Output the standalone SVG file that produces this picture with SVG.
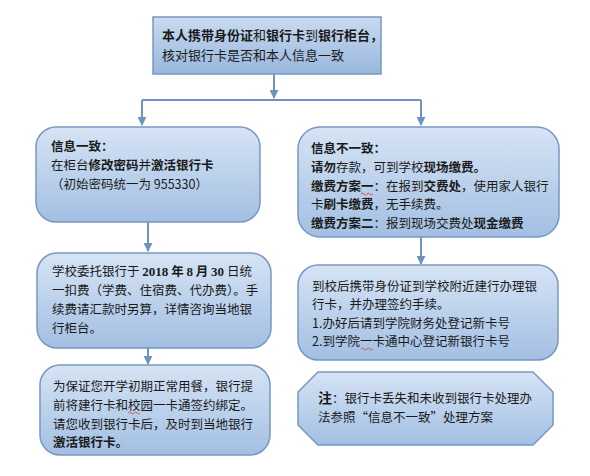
<svg xmlns="http://www.w3.org/2000/svg" width="590" height="476" viewBox="0 0 590 476">
<defs>
<linearGradient id="g" x1="0" y1="0" x2="0" y2="1">
<stop offset="0" stop-color="#d6e4f5"/>
<stop offset="1" stop-color="#a2bfe2"/>
</linearGradient>
<linearGradient id="gt" x1="0" y1="0" x2="0" y2="1">
<stop offset="0" stop-color="#c9dbf1"/>
<stop offset="1" stop-color="#98b6dc"/>
</linearGradient>
<marker id="ah" viewBox="0 0 10 10" refX="9" refY="5" markerWidth="4.5" markerHeight="4.5" orient="auto" markerUnits="strokeWidth">
<path d="M0,0 L10,5 L0,10 z" fill="#6f93c0"/>
</marker>
</defs>
<style>
.box{fill:url(#g);stroke:#7898c2;stroke-width:1.5}
.top{fill:url(#gt);stroke:#7898c2;stroke-width:1.5}
.t{font-family:"Noto Sans CJK SC","Noto Sans",sans-serif;font-size:12.5px;fill:#1a1a1a}
.tt{font-size:13px}
.b{font-weight:bold}
.n{font-family:"Liberation Serif",serif;font-weight:bold;font-size:13px}
.c{fill:none;stroke:#6f93c0;stroke-width:2}
.sq{fill:none;stroke:#e03030;stroke-width:0.8}
</style>
<rect width="590" height="476" fill="#ffffff"/>
<g id="connectors">
<line class="c" x1="274" y1="74" x2="274" y2="98" marker-end="url(#ah)"/>
<line class="c" x1="142" y1="100" x2="421" y2="100"/>
<line class="c" x1="142" y1="100" x2="142" y2="125" marker-end="url(#ah)"/>
<line class="c" x1="421" y1="100" x2="421" y2="125" marker-end="url(#ah)"/>
<line class="c" x1="148" y1="222" x2="148" y2="251" marker-end="url(#ah)"/>
<line class="c" x1="148" y1="348" x2="148" y2="364" marker-end="url(#ah)"/>
<line class="c" x1="421" y1="237" x2="421" y2="264" marker-end="url(#ah)"/>
</g>
<g id="n_top">
<rect class="top" x="153" y="17" width="228" height="57"/>
<text class="t tt" x="162" y="40"><tspan class="b">本人携带身份证</tspan>和<tspan class="b">银行卡</tspan>到<tspan class="b">银行柜台，</tspan></text>
<text class="t tt" x="162" y="60">核对银行卡是否和本人信息一致</text>
</g>
<g id="n_left1">
<rect class="box" x="36" y="127" width="224" height="95" rx="20" ry="20"/>
<text class="t b" x="51" y="151">信息一致：</text>
<text class="t" x="51" y="170">在柜台<tspan class="b">修改密码</tspan>并<tspan class="b">激活银行卡</tspan></text>
<text class="t" x="51" y="189">（初始密码统一为 955330）</text>
</g>
<g id="n_right1">
<rect class="box" x="298" y="127" width="261" height="110" rx="22" ry="22"/>
<text class="t b" x="311" y="153">信息不一致：</text>
<text class="t" x="311" y="172"><tspan class="b">请勿</tspan>存款，可到学校<tspan class="b">现场缴费。</tspan></text>
<text class="t" x="311" y="191"><tspan class="b">缴费方案一</tspan>：在报到<tspan class="b">交费处</tspan>，使用家人银行</text>
<path class="sq" d="M361,194 q1.5,-2 3,0 t3,0 t3,0 t3,0"/>
<text class="t" x="311" y="209">卡<tspan class="b">刷卡缴费</tspan>，无手续费。</text>
<text class="t" x="311" y="228"><tspan class="b">缴费方案二</tspan>：报到现场交费处<tspan class="b">现金缴费</tspan></text>
</g>
<g id="n_left2">
<rect class="box" x="37" y="253" width="234" height="95" rx="20" ry="20"/>
<text class="t" x="52" y="276">学校委托银行于 <tspan class="n">2018</tspan> <tspan class="b">年</tspan> <tspan class="n">8</tspan> <tspan class="b">月</tspan> <tspan class="n">30</tspan> 日统</text>
<text class="t" x="52" y="295">一扣费（学费、住宿费、代办费）。手</text>
<text class="t" x="52" y="314">续费请汇款时另算，详情咨询当地银</text>
<text class="t" x="52" y="333">行柜台。</text>
</g>
<g id="n_right2">
<rect class="box" x="298" y="265" width="260" height="95" rx="20" ry="20"/>
<text class="t" x="312" y="291">到校后携带身份证到学校附近建行办理银</text>
<text class="t" x="312" y="309">行卡，并办理签约手续。</text>
<text class="t" x="312" y="328">1.办好后请到学院财务处登记新卡号</text>
<text class="t" x="312" y="346">2.到学院一卡通中心登记新银行卡号</text>
<path class="sq" d="M361,349 q1.5,-2 3,0 t3,0 t3,0 t3,0"/>
</g>
<g id="n_left3">
<rect class="box" x="40" y="365" width="230" height="90" rx="20" ry="20"/>
<text class="t" x="53" y="391">为保证您开学初期正常用餐，银行提</text>
<text class="t" x="53" y="410">前将建行卡和校园一卡通签约绑定。</text>
<path class="sq" d="M128,413 q1.5,-2 3,0 t3,0 t3,0 t3,0"/>
<text class="t" x="53" y="429">请您收到银行卡后，及时到当地银行</text>
<text class="t b" x="53" y="447">激活银行卡。</text>
</g>
<g id="n_note">
<path class="box" d="M318,372 L533,372 L553,392 L553,425 L533,445 L318,445 L298,425 L298,392 Z"/>
<text class="t" x="318" y="403"><tspan class="b" font-size="14">注</tspan>：银行卡丢失和未收到银行卡处理办</text>
<text class="t" x="318" y="422">法参照“信息不一致”处理方案</text>
</g>
</svg>
